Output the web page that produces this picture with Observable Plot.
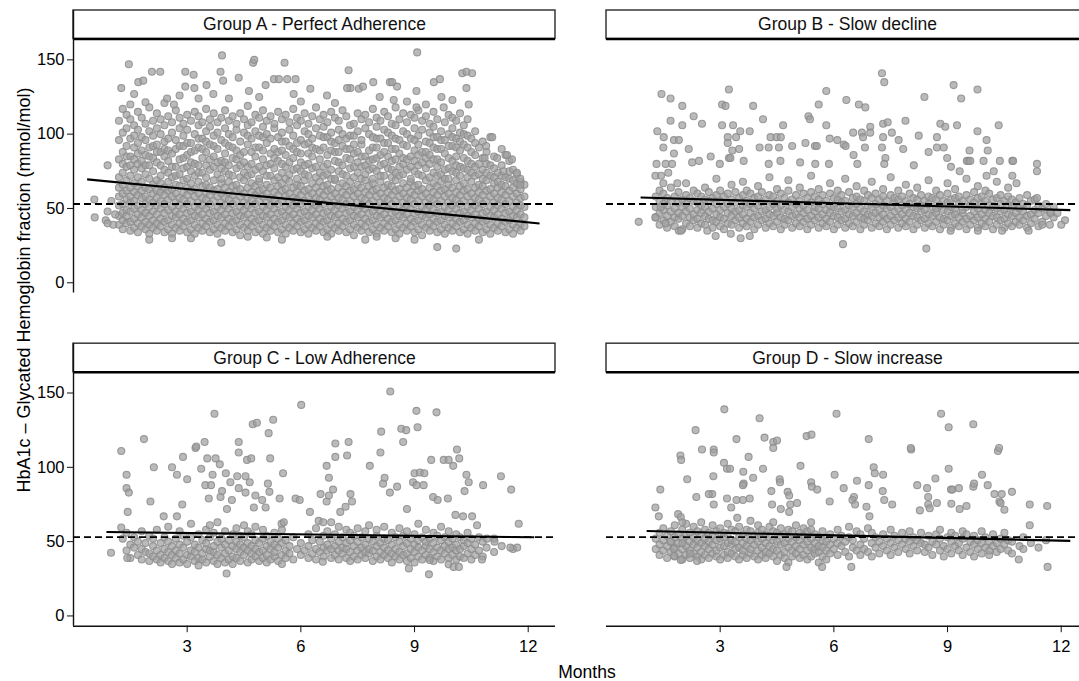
<!DOCTYPE html>
<html><head><meta charset="utf-8">
<script src="https://cdn.jsdelivr.net/npm/d3@7"></script>
<script src="https://cdn.jsdelivr.net/npm/@observablehq/plot@0.6"></script>
<style>html,body{margin:0;padding:0;background:#fff;overflow:hidden;} #chart svg{display:block;max-width:none !important;}</style>
</head><body><div id="chart"></div>
<script>
// ---- panels ----
const panelKeys = ["A", "B", "C", "D"];
const panelTitles = ["Group A - Perfect Adherence", "Group B - Slow decline", "Group C - Low Adherence", "Group D - Slow increase"];
const panelCols = ["left", "right", "left", "right"];
const panelRows = ["top", "top", "bottom", "bottom"];
const xTicks = [3, 6, 9, 12];
const yTicks = [0, 50, 100, 150];
const targetHbA1c = 53;
const xLabel = "Months";
const yLabel = "HbA1c – Glycated Hemoglobin fraction (mmol/mol)";
// regression lines: [month start, month end] and [value start, value end]
const trendMonths = [[0.36, 12.3], [0.9, 12.24], [0.87, 12.16], [1.06, 12.24]];
const trendValues = [[69.6, 39.9], [57.4, 48.9], [56.5, 52.9], [57.2, 50.5]];

// ---- Group A: columns [month, values...] ----
const columnsA = [
[1.2,39,45,52,58,64,71,83,96,109],
[1.3,36,42,47,53,60,66,74,80,88,101,117],
[1.4,40,45,49,56,62,69,78,85,92,104,113],
[1.5,35,41,48,54,58,64,72,79,85,97,110,120],
[1.6,37,43,50,55,61,67,76,83,91,99,106],
[1.7,34,40,46,52,59,65,71,80,87,94,103,115],
[1.8,38,44,49,57,62,68,77,82,89,98,111],
[1.9,36,41,47,53,58,64,73,79,86,96,107],
[2.0,33,39,45,51,56,63,70,79,85,91,102,118],
[2.1,37,42,48,54,60,66,75,84,92,99,109],
[2.2,35,40,46,52,57,62,69,81,88,93,104,114],
[2.3,38,43,50,55,61,67,72,79,88,100,110],
[2.4,34,41,47,53,59,64,76,85,90,95,106,121],
[2.5,36,42,49,56,62,68,74,82,89,97,112],
[2.6,33,39,45,51,58,63,71,78,87,101,108],
[2.7,37,44,48,54,60,66,72,78,90,96,116],
[2.8,35,40,46,52,57,65,73,83,92,104,111],
[2.9,38,43,50,56,61,69,77,84,92,99,107],
[3.0,34,41,47,53,59,64,70,78,86,94,103,113],
[3.1,36,42,48,55,62,67,75,81,88,94,109],
[3.2,33,39,45,51,58,63,72,80,89,100,115],
[3.3,37,44,49,54,60,68,74,79,91,97,106,112],
[3.4,35,40,46,52,57,65,74,84,90,97,108],
[3.5,38,43,50,56,61,66,71,79,88,95,102,117],
[3.6,34,41,47,53,59,64,76,83,93,105,110],
[3.7,36,42,48,55,62,69,78,85,92,99,114],
[3.8,33,39,45,51,58,63,73,81,90,101,108],
[3.9,37,44,49,54,60,67,70,77,82,96,111],
[4.0,35,40,46,52,57,64,75,81,87,94,104,116],
[4.1,38,43,50,56,61,68,73,79,92,100,109],
[4.2,34,41,47,53,59,65,72,84,91,98,112],
[4.3,36,42,48,55,62,66,77,83,89,103,107],
[4.4,32,39,45,51,58,63,71,79,86,95,114],
[4.5,37,44,49,54,60,69,74,81,88,101,110],
[4.6,35,40,46,52,57,64,72,78,93,99,106,119],
[4.7,38,43,50,56,61,67,73,80,88,97,108],
[4.8,34,41,47,53,59,65,76,85,91,102,113],
[4.9,36,42,48,55,62,68,70,78,91,99,111],
[5.0,33,39,45,51,58,63,75,83,89,98,105,116],
[5.1,37,44,49,54,60,66,72,79,94,100,109],
[5.2,35,40,46,52,57,64,72,80,87,97,112],
[5.3,38,43,50,56,61,69,77,84,90,104,107],
[5.4,34,41,47,53,59,65,71,82,88,98,115],
[5.5,36,42,48,55,62,67,74,80,89,95,101,110],
[5.6,33,39,45,51,58,63,70,78,86,95,113],
[5.7,37,44,49,54,60,68,73,81,92,103,108],
[5.8,35,40,46,52,57,64,76,84,90,99,117],
[5.9,38,43,50,56,61,66,70,77,88,94,106,111],
[6.0,34,41,47,53,59,65,75,81,87,96,109],
[6.1,36,42,48,55,62,69,73,79,93,102,114],
[6.2,33,39,45,51,58,63,72,80,87,94,100,107],
[6.3,37,44,49,54,60,67,77,85,91,97,112],
[6.4,35,40,46,52,57,64,71,78,90,104,118],
[6.5,38,43,50,56,61,68,74,83,89,99,110],
[6.6,34,41,47,53,59,65,72,78,91,98,105,113],
[6.7,36,42,48,55,62,66,73,80,86,98,108],
[6.8,33,39,45,51,58,63,70,76,89,95,101,115],
[6.9,37,44,49,54,60,69,70,82,88,94,111],
[7.0,35,40,46,52,57,64,75,81,88,96,103,109],
[7.1,38,43,50,56,61,67,73,79,92,100,116],
[7.2,34,41,47,53,59,65,72,84,90,97,112],
[7.3,36,42,48,55,62,68,77,83,90,99,106],
[7.4,32,39,45,51,58,63,71,78,87,93,99,107],
[7.5,37,44,49,54,60,66,74,81,88,102,114],
[7.6,35,40,46,52,57,64,70,78,85,93,96,110],
[7.7,38,43,50,56,61,69,73,79,85,104,113],
[7.8,34,41,47,53,59,65,76,82,89,100,108],
[7.9,36,42,48,55,62,67,70,77,83,91,98,117],
[8.0,33,39,45,51,58,63,75,84,91,97,105,111],
[8.1,37,44,49,54,60,68,72,79,86,97,109],
[8.2,35,40,46,52,57,64,72,80,88,94,103,115],
[8.3,38,43,50,56,61,66,77,85,94,101,112],
[8.4,34,41,47,53,59,65,71,76,82,90,99,107],
[8.5,36,42,48,55,62,69,74,83,90,97,106,118],
[8.6,33,39,45,51,58,63,72,78,87,96,110],
[8.7,37,44,49,54,60,67,73,80,84,93,102,114],
[8.8,35,40,46,52,57,64,76,83,92,100,108],
[8.9,38,43,50,56,61,68,70,78,85,97,113],
[9.0,34,41,47,53,59,65,75,82,89,96,104,111],
[9.1,36,42,48,55,62,66,73,79,86,93,99,116],
[9.2,32,39,45,51,58,63,72,81,88,103,109],
[9.3,37,44,49,54,60,69,77,84,88,95,112],
[9.4,35,40,46,52,57,64,71,80,86,94,101,107],
[9.5,38,43,50,56,61,67,74,83,91,98,105,115],
[9.6,34,41,47,53,59,65,72,78,83,90,98,110],
[9.7,36,42,48,55,62,68,73,81,90,96,102],
[9.8,33,39,45,51,58,63,70,76,87,96,108],
[9.9,37,44,49,54,60,66,70,77,84,92,100,113],
[10.0,35,40,46,52,57,64,75,82,92,98,104,111],
[10.1,38,43,50,56,61,69,74,79,85,91,97,109],
[10.2,34,41,47,53,59,65,72,78,89,95,101,114],
[10.3,36,42,48,55,62,67,77,84,93,100,106],
[10.4,33,39,45,51,58,63,71,76,82,91,99,110],
[10.5,37,44,49,54,60,68,74,80,88,97],
[10.6,35,40,46,52,57,64,72,78,86,94,102],
[10.7,38,43,50,56,61,66,73,80,91],
[10.8,34,41,47,53,59,65,70,76,84,95],
[10.9,36,42,48,55,62,69,74,80,88],
[11.0,33,39,45,51,58,63,72,79,98],
[11.1,37,44,49,54,60,67,71,77,85],
[11.2,35,40,46,52,57,64,68,74],
[11.3,38,43,50,56,61,66,72,79,90],
[11.4,34,41,47,53,59,65,71,86],
[11.5,36,42,48,55,62,70,75,82],
[11.6,33,39,45,51,58,64,69,76],
[11.7,37,44,49,54,60,67,73],
[11.8,35,40,46,52,57,63,68],
[11.9,38,44,51,58,66]
];
// Group A: single points [month, value, month, value, ...]
const pointsA = [
0.55,56, 0.56,44, 0.85,42, 0.9,40, 0.9,48, 0.9,79, 1.0,55, 1.1,46, 1.05,39,
1.46,147, 1.26,131, 1.71,135, 1.84,136, 2.07,142, 2.29,142, 2.95,142, 3.17,140, 2.95,132, 3.19,131,
3.51,133, 3.88,142, 3.92,153, 3.95,136, 4.36,138, 4.74,148, 4.77,150, 4.63,129, 5.07,133, 5.29,137,
5.42,137, 5.57,148, 5.64,137, 5.86,137, 7.26,143, 7.31,131, 7.53,130.5, 6.25,130.5, 6.69,126, 5.81,127,
3.69,127, 2.47,124, 1.9,121.5, 2.65,120, 9.07,155, 7.91,135, 8.35,135, 8.41,135, 8.54,132, 9.05,129,
7.22,131, 7.64,132, 8.08,125, 8.45,123, 9.51,135, 9.67,137, 9.71,125, 10.26,141, 10.37,142, 10.52,141,
10.37,131, 10.43,120, 9.05,118, 9.77,118, 10.89,92, 10.85,84, 11.05,98, 11.18,84, 11.44,86, 11.57,83,
11.7,74, 11.79,66, 11.79,70, 11.35,75, 2.0,29, 3.1,30, 3.9,27, 4.6,31, 5.5,29, 6.7,31, 7.7,29, 8.5,30,
9.6,24, 10.1,23, 10.7,29, 2.6,30, 5.1,30.5, 8.0,31, 9.0,29, 4.1,124, 6.0,122, 6.9,121, 8.8,122, 9.3,120,
10.0,123, 3.3,124, 4.9,125, 1.6,127, 2.8,126
];

// ---- Group B ----
const columnsB = [
[1.3,44,51,58],[1.4,39,47,55,62],[1.5,42,49,53,60],[1.6,37,45,52,57],[1.7,41,48,55,64],
[1.8,38,44,50,58],[1.9,43,47,54,61],[2.0,36,45,51,56],[2.1,40,48,53,59,67],[2.2,38,44,50,57],
[2.3,42,46,55,62],[2.4,37,43,49,54,60],[2.5,40,47,52,58],[2.6,39,45,51,56,64],[2.7,43,48,55,61],
[2.8,37,42,50,57],[2.9,41,46,53,59,70],[3.0,38,44,49,55,62],[3.1,36,43,51,58],[3.2,40,47,53,60],
[3.3,39,45,50,56,66],[3.4,42,48,54,61],[3.5,37,44,49,57],[3.6,40,46,52,59,68],[3.7,38,43,51,55,62],
[3.8,41,47,53,60],[3.9,36,44,50,57],[4.0,39,45,52,58,65],[4.1,42,48,54,61],[4.2,37,43,49,56],
[4.3,40,46,51,59,71],[4.4,38,45,53,58],[4.5,41,47,50,55,63],[4.6,36,44,52,60],[4.7,39,43,49,57],
[4.8,42,48,54,62,69],[4.9,37,45,51,56],[5.0,40,46,53,59],[5.1,38,44,50,55,64],[5.2,41,47,52,60],
[5.3,36,43,49,57],[5.4,39,45,54,61,72],[5.5,42,48,51,58],[5.6,37,44,50,56,63],[5.7,40,46,53,59],
[5.8,38,43,49,55],[5.9,41,47,52,60,67],[6.0,36,45,51,57],[6.1,39,44,50,56,62],[6.2,42,48,54,59],
[6.3,37,43,49,55,70],[6.4,40,46,52,61],[6.5,38,45,51,57],[6.6,41,47,53,58,65],[6.7,36,44,50,56],
[6.8,39,43,48,55,62],[6.9,42,46,52,59],[7.0,37,45,51,57,68],[7.1,40,47,53,60],[7.2,38,44,49,56],
[7.3,41,46,52,58,63],[7.4,36,43,50,55],[7.5,39,45,51,59,71],[7.6,42,48,54,57],[7.7,37,44,50,56,62],
[7.8,40,46,52,58],[7.9,38,43,49,55,66],[8.0,41,47,53,60],[8.1,36,45,51,57],[8.2,39,44,50,56,64],
[8.3,42,48,52,59],[8.4,37,43,49,55],[8.5,40,46,53,58,69],[8.6,38,45,51,57],[8.7,41,47,50,56,62],
[8.8,36,44,52,59],[8.9,39,43,49,55],[9.0,42,48,54,60,67],[9.1,37,45,51,56],[9.2,40,46,50,57,63],
[9.3,38,44,53,58],[9.4,41,47,49,55],[9.5,36,43,51,59,70],[9.6,39,45,52,56],[9.7,42,48,54,61],
[9.8,37,44,50,57,65],[9.9,40,46,53,58],[10.0,38,43,49,55,62],[10.1,41,47,52,60],[10.2,36,45,51,56],
[10.3,39,44,50,57,68],[10.4,42,48,53,59],[10.5,37,43,49,55],[10.6,40,46,52,58,64],[10.7,38,45,51,56],
[10.8,41,47,54],[10.9,39,44,50,57],[11.0,42,48,53],[11.1,37,45,52,59],[11.2,40,46,55],
[11.3,43,49,56],[11.4,38,47,52],[11.5,41,50],[11.6,45,53],[11.7,39,48],[11.8,44,51],[11.9,47],[12.1,42]
];
const pointsB = [
0.85,41, 1.45,127, 1.69,124, 2.0,119, 1.69,109, 2.0,106, 2.3,112, 1.34,102, 1.51,98, 1.5,91, 1.78,96,
1.91,96, 1.32,80, 1.56,80, 1.73,80, 1.78,87, 1.29,72, 1.44,72, 1.5,67, 1.87,67, 2.26,81, 2.17,90, 2.44,82,
1.63,74, 1.43,51, 1.29,44, 1.56,40, 1.91,35, 1.97,35, 3.23,130, 3.05,120, 3.14,119, 3.87,119, 4.13,110,
4.66,106, 2.52,107, 3.05,106, 3.34,106, 3.53,102, 3.78,102, 3.2,98, 3.2,94, 3.42,98, 3.32,89, 3.5,90,
2.75,85, 2.99,80, 3.23,84, 3.27,84, 3.62,82, 4.04,91, 4.28,91, 4.33,98, 4.49,98, 4.6,98, 4.55,91, 4.28,80,
4.59,82, 4.9,92, 5.11,81, 5.25,94, 5.33,112, 5.37,110, 5.6,120, 5.8,129, 5.8,106, 5.5,92, 5.55,92, 5.51,80,
5.87,80, 5.89,97, 6.09,96, 6.33,123, 6.66,120, 6.83,118, 6.26,93, 6.31,92, 6.52,86, 6.51,101, 6.74,101,
6.77,98, 6.96,105, 6.96,101, 6.82,91, 6.62,80, 7.27,141, 7.33,135, 7.3,107, 7.42,108, 7.3,98, 7.53,101,
7.71,96, 7.89,109, 7.27,91, 7.36,84, 7.33,80, 7.83,90, 8.11,79, 8.24,99, 8.39,125, 8.5,88, 8.81,107,
8.94,105, 8.72,98, 8.72,91, 8.9,91, 9.16,133, 9.36,124, 9.79,130, 9.25,106, 9.79,102, 10.35,106, 10.03,96,
10.06,89, 9.58,89, 8.99,84, 9.09,78, 9.51,82, 9.55,82, 9.6,82, 9.95,82, 9.32,75, 10.03,72, 10.22,75,
10.38,82, 10.71,82, 10.73,82, 10.71,72, 10.82,67, 11.36,80, 11.36,75, 11.36,57, 11.72,47, 11.5,39, 12.0,39,
11.14,35, 8.44,23, 6.24,26, 2.66,35, 2.88,31.5, 3.28,33, 3.54,30, 3.78,31.5, 9.08,35, 9.8,35, 10.44,35
];

// ---- Group C ----
const columnsC = [
[1.3,52],[1.4,44,56],[1.5,48,39],[1.6,53,46],[1.7,41,50],[1.8,38,45,57],[1.9,43,49],[2.0,37,42,54],
[2.1,40,47,52],[2.2,38,44,58],[2.3,36,41,49],[2.4,39,45,53],[2.5,37,43,50,60],[2.6,35,41,47],
[2.7,39,44,52],[2.8,36,42,48,57],[2.9,38,46,54],[3.0,35,41,50],[3.1,40,44,53,62],[3.2,37,43,48],
[3.3,34,39,46,55],[3.4,38,42,51],[3.5,36,45,49,58],[3.6,40,44,53,61],[3.7,37,43,47,56],[3.8,35,41,50,63],
[3.9,39,46,52],[4.0,36,42,48,57],[4.1,38,44,51],[4.2,35,40,47,55],[4.3,39,45,50,59],[4.4,37,43,48,54],
[4.5,41,46,53,61],[4.6,36,44,49,57],[4.7,38,42,47,55],[4.8,40,45,51,60],[4.9,37,43,49],[5.0,39,44,52,58],
[5.1,36,41,47,54],[5.2,38,45,50],[5.3,40,43,48,56],[5.4,37,46,52],[5.5,35,41,49,58],[5.6,39,44,51],
[5.7,42,47],[5.8,38,53],[5.9,45],[6.0,41,49],[6.1,44],[6.2,39,47,55],[6.3,42,51],[6.4,38,45,59],
[6.5,43,50],[6.6,40,46,54],[6.7,44,48,57],[6.8,39,45,52,63],[6.9,41,47,55],[7.0,38,44,50,60],
[7.1,42,46,53],[7.2,39,45,49,58],[7.3,37,43,51,56],[7.4,40,47,54],[7.5,38,44,50,59],[7.6,41,46,53],
[7.7,39,43,48,57],[7.8,42,45,52,61],[7.9,37,44,50],[8.0,40,47,54,58],[8.1,38,43,49],[8.2,41,46,52,60],
[8.3,39,44,51],[8.4,36,42,48,56],[8.5,40,45,53],[8.6,38,43,50,59],[8.7,41,47,54],[8.8,37,42,49,57],
[8.9,39,45,52],[9.0,36,43,48,55],[9.1,40,46,51,62],[9.2,38,44,53],[9.3,41,47,50,58],[9.4,39,45,52],
[9.5,37,43,49,56],[9.6,40,46,54],[9.7,38,44,51,60],[9.8,42,47,53],[9.9,39,45,50,57],[10.0,41,46,52],
[10.1,38,44,48,55],[10.2,40,45,53],[10.3,39,47,51],[10.4,42,49,56],[10.5,38,45,52],[10.6,41,48],
[10.7,44,53],[10.8,40,50],[10.9,46],[11.1,43,52],[11.3,47],[11.6,45]
];
const pointsC = [
1.26,111, 1.40,95, 1.40,86, 1.46,83, 1.43,70, 1.42,39, 0.99,42.5, 1.26,59.5, 1.86,119, 2.12,100, 2.03,77,
2.38,67, 2.6,100, 2.73,95, 2.73,67, 2.87,75, 2.89,107, 3.0,92, 3.22,113, 3.24,114, 3.37,99, 3.46,117,
3.53,106, 3.57,79, 3.48,88, 3.63,88, 3.72,136, 3.75,106, 3.67,95, 3.86,102, 3.88,80, 3.92,84, 4.02,96,
4.05,72, 4.14,90, 4.18,78, 4.36,117, 4.36,110, 4.32,94, 4.36,86, 4.54,94, 4.54,83, 4.58,105, 4.65,90,
4.69,106, 4.73,129, 4.84,130, 4.8,81, 4.76,73, 4.98,78, 5.15,123, 5.13,89, 5.17,83.5, 5.19,106, 5.27,132,
5.07,73, 5.53,96, 5.44,79, 5.49,62, 5.55,63, 5.86,79, 5.97,78, 6.01,142, 6.24,70, 6.47,64, 6.59,63,
6.52,82, 6.58,36.5, 6.68,101, 6.74,93, 6.68,77, 6.74,81, 6.85,85, 6.91,107, 6.91,116, 7.04,70, 7.18,73.5,
7.22,108, 7.26,117, 7.31,82, 7.35,77, 7.82,101, 8.1,110, 8.12,124, 8.17,89, 8.21,93, 8.36,151, 8.35,83,
8.54,87, 8.65,126, 8.78,125, 8.7,117, 8.8,72, 9.05,138, 9.08,127, 8.96,90, 9.0,96, 9.14,96.5, 9.26,96,
9.05,88, 9.24,88, 9.58,137, 9.44,105, 9.49,80, 9.61,78, 9.77,105, 9.9,105, 9.88,79, 10.02,101, 10.12,112,
10.18,106, 10.37,95, 10.43,90, 10.32,84, 10.81,88, 11.28,94, 11.55,85, 11.75,62, 11.53,46, 11.71,46,
9.38,28, 9.4,37.6, 8.85,32, 9.9,34.7, 10.03,33, 10.17,33, 10.78,38, 10.91,52, 11.11,50, 10.52,67,
10.65,61, 10.28,67, 10.08,68, 4.04,28.6
];

// ---- Group D ----
const columnsD = [
[1.3,45,52],[1.4,41,48,56],[1.5,44,51,59],[1.6,39,47,54],[1.7,43,50,57],[1.8,40,46,53,61],[1.9,42,49,55],
[2.0,38,45,52,58],[2.1,41,47,54,62],[2.2,39,44,50,56],[2.3,42,48,53,60],[2.4,40,46,51,57],[2.5,38,43,49,55,63],
[2.6,41,47,52,58],[2.7,39,45,50,56],[2.8,42,48,54,61],[2.9,40,44,51,57],[3.0,38,46,52,59],[3.1,41,47,53,56],
[3.2,39,43,49,55,62],[3.3,42,48,51,58],[3.4,40,45,50,57],[3.5,38,46,53,60],[3.6,41,44,49,55],[3.7,39,47,52,58],
[3.8,42,45,51,57,64],[3.9,40,48,54],[4.0,38,44,50,56,61],[4.1,41,46,52,58],[4.2,39,43,49,55],[4.3,42,47,53,60],
[4.4,40,45,51,57,63],[4.5,37,44,50,56],[4.6,41,48,54,59],[4.7,39,43,49,55],[4.8,36,46,52,58],[4.9,40,44,50,57],
[5.0,42,47,53,61],[5.1,39,45,51,56],[5.2,41,48,54,59],[5.3,38,44,50,57],[5.4,40,46,52,58,63],[5.5,42,45,49,55],
[5.6,36,43,47,53],[5.7,40,46,51,57],[5.8,38,44,50],[5.9,42,48,55],[6.0,45,52],[6.1,41,49,58],[6.2,47,54],
[6.3,43,50],[6.4,40,53,60],[6.5,46,51],[6.6,44,57],[6.7,41,48,55],[6.8,45,52],[6.9,43,59],[7.0,40,49,56],
[7.1,46,53],[7.2,42,50],[7.3,47,55],[7.4,44,52],[7.5,41,49,58],[7.6,46,54],[7.7,43,51],[7.8,48,56],
[7.9,45,52],[8.0,42,50,57],[8.1,47,53],[8.2,44,51],[8.3,49,56],[8.4,43,48],[8.5,46,54],[8.6,41,50],
[8.7,48,55],[8.8,44,52,58],[8.9,40,47],[9.0,45,53],[9.1,42,50,56],[9.2,47,54],[9.3,44,49],[9.4,41,52,57],
[9.5,46,55],[9.6,43,50],[9.7,40,48,54],[9.8,45,51],[9.9,42,49,57],[10.0,46,53],[10.1,41,44,50],[10.2,47,55],
[10.3,43,49],[10.4,45,52],[10.5,48,56],[10.6,44,51],[10.7,42,50],[10.9,47],[11.0,45,53],[11.2,49],[11.4,46],[11.6,51]
];
const pointsD = [
3.11,139, 4.04,133, 6.07,136, 8.83,136, 9.03,127, 9.68,129, 3.43,119, 4.17,120, 4.4,117, 4.5,118, 4.4,113,
5.28,121, 5.41,122, 6.92,119, 8.04,112, 10.33,111, 10.36,113, 2.83,112, 2.52,112, 2.83,110, 3.75,107, 3.1,103,
3.18,99, 3.26,99, 3.61,97, 3.62,89, 3.87,93, 4.13,99, 3.6,88, 2.82,94, 2.79,82, 2.7,82, 2.83,75, 3.18,79,
3.29,73, 3.43,78, 3.6,78, 3.78,79, 3.45,66, 4.57,92, 4.58,90, 4.35,84, 4.78,83.5, 4.82,81, 4.85,75, 5.03,76,
4.82,70, 4.6,72, 4.37,75, 5.12,101, 5.4,90, 5.42,87, 5.56,85, 5.89,77, 6.02,95, 6.26,86, 6.53,80, 6.61,91,
6.49,78, 6.56,75, 6.92,88, 7.05,100, 7.08,96, 7.3,95, 7.29,84, 7.33,78, 7.54,75, 6.86,73.5, 6.94,67, 8.03,113,
8.2,88, 8.46,86, 8.49,80, 8.49,75, 8.53,72.5, 8.72,76, 8.68,92.5, 8.27,71, 9.09,85, 9.13,85, 9.3,86, 9.68,87,
9.7,89, 9.91,95, 10.06,88, 10.24,82, 10.43,82, 10.7,83.5, 10.37,77, 10.4,76, 10.5,71.5, 9.32,72, 9.5,74,
9.1,75.5, 9.03,99, 11.17,75, 11.63,74, 11.17,61, 11.64,33, 10.88,38, 1.29,73, 1.38,67, 1.42,85, 1.95,108,
1.97,105, 2.13,92, 2.37,80, 1.89,68.5, 1.96,66.6, 2.0,63, 1.69,50, 1.78,45, 1.78,40.5, 2.0,49, 2.2,42,
2.39,37, 1.96,37.6, 2.35,125, 5.69,33, 4.75,33, 6.46,33
];

// ---- build tables ----
const columnsByPanel = [columnsA, columnsB, columnsC, columnsD];
const pointsByPanel = [pointsA, pointsB, pointsC, pointsD];
const panels = panelKeys.map((k, i) => ({key: k, title: panelTitles[i], col: panelCols[i], row: panelRows[i]}));
const obs = [];
panels.forEach((p, i) => {
  for (const c of columnsByPanel[i]) for (let j = 1; j < c.length; j++) obs.push({col: p.col, row: p.row, month: c[0], hba1c: c[j]});
  const a = pointsByPanel[i];
  for (let j = 0; j < a.length; j += 2) obs.push({col: p.col, row: p.row, month: a[j], hba1c: a[j + 1]});
});
const trends = panels.map((p, i) => ({col: p.col, row: p.row, m1: trendMonths[i][0], m2: trendMonths[i][1], v1: trendValues[i][0], v2: trendValues[i][1]}));

// scale layout (panel strip sits above the data region)
const xDomain = [0, 12.72];
const yDomain = [-6.9, 183.2];
const stripBase = 164;

const font = "'Liberation Sans', Arial, Helvetica, sans-serif";
const chart = Plot.plot({
  width: 1090, height: 681,
  marginLeft: 73, marginRight: 2, marginTop: 10, marginBottom: 55.3,
  style: {fontFamily: font, fontSize: "16.5px", color: "#000", background: "#fff"},
  x: {domain: xDomain},
  y: {domain: yDomain},
  fx: {domain: ["left", "right"], paddingInner: 0.0957, paddingOuter: 0, round: false, axis: null},
  fy: {domain: ["top", "bottom"], paddingInner: 0.152, paddingOuter: 0, round: false, axis: null},
  marks: [
    Plot.rect(panels, {x1: () => xDomain[0], x2: () => xDomain[1], y1: () => stripBase, y2: () => yDomain[1], fx: "col", fy: "row", fill: "#fff", stroke: "#2a2a2a", strokeWidth: 1.4}),
    Plot.ruleY(panels, {y: () => stripBase, fx: "col", fy: "row", stroke: "#000", strokeWidth: 2.4}),
    Plot.ruleX(panels.filter(p => p.col === "left"), {x: () => xDomain[0], fx: "col", fy: "row", stroke: "#111", strokeWidth: 1.4}),
    Plot.ruleY(panels.filter(p => p.row === "bottom"), {y: () => yDomain[0], fx: "col", fy: "row", stroke: "#111", strokeWidth: 1.4}),
    Plot.dot(obs, {x: "month", y: "hba1c", fx: "col", fy: "row", r: 3.5, fill: "#a0a0a0", fillOpacity: 0.72, stroke: "#8c8c8c", strokeOpacity: 0.85, strokeWidth: 1.1}),
    Plot.ruleY(panels, {y: () => targetHbA1c, fx: "col", fy: "row", stroke: "#000", strokeWidth: 1.8, strokeDasharray: "7,4"}),
    Plot.link(trends, {x1: "m1", y1: "v1", x2: "m2", y2: "v2", fx: "col", fy: "row", stroke: "#000", strokeWidth: 2.1}),
    Plot.text(panels, {x: () => (xDomain[0] + xDomain[1]) / 2, y: () => (stripBase + yDomain[1]) / 2, text: "title", fx: "col", fy: "row", fontSize: 17.5, fill: "#111"}),
    Plot.axisX({ticks: xTicks, tickSize: 6.5, tickPadding: 8, label: null, fontSize: 16.5, stroke: "#111"}),
    Plot.axisY({ticks: yTicks, tickSize: 6, tickPadding: 3, label: null, fontSize: 16.5, stroke: "#111"})
  ]
});
chart.style.maxWidth = "none";
document.getElementById("chart").appendChild(chart);

const svg = d3.select(chart);
svg.append("text").attr("transform", "translate(30,290) rotate(-90)").attr("text-anchor", "middle")
  .attr("font-family", font).attr("font-size", 18).attr("fill", "#000").text(yLabel);
svg.append("text").attr("x", 587).attr("y", 678).attr("text-anchor", "middle")
  .attr("font-family", font).attr("font-size", 17.5).attr("fill", "#000").text(xLabel);
</script></body></html>
